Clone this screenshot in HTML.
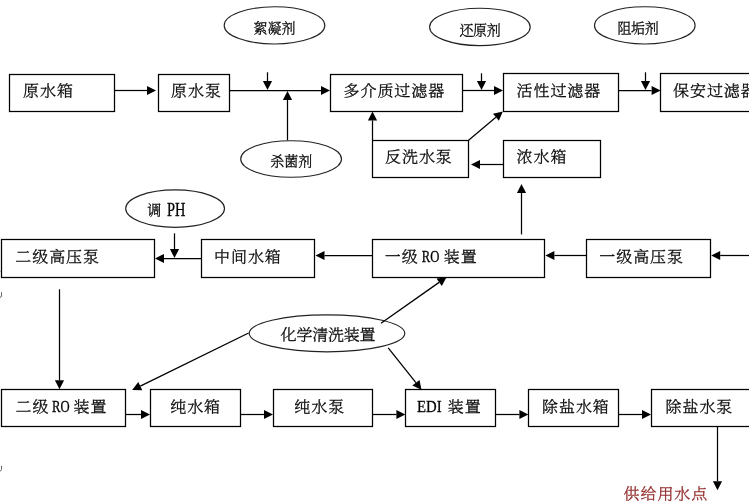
<!DOCTYPE html>
<html lang="zh-CN">
<head>
<meta charset="utf-8">
<title>水处理工艺流程图</title>
<style>
html,body{margin:0;padding:0;background:#fff;}
body{width:749px;height:502px;overflow:hidden;}
svg{display:block;}
text{font-family:"Liberation Serif", "Noto Serif CJK SC", serif;font-weight:300;stroke-width:0.32;stroke-linejoin:round;}
.b{fill:#fff;stroke:#000;stroke-width:1.25;}
.e{fill:#fff;stroke:#222;stroke-width:1.15;}
.l{stroke:#000;stroke-width:1.25;fill:none;}
.d{stroke:#000;stroke-width:1.3;fill:none;}
.h{fill:#000;stroke:none;}
</style>
</head>
<body>
<svg width="749" height="502" viewBox="0 0 749 502">
<rect x="0" y="0" width="749" height="502" fill="#fff"/>
<rect class="b" x="9.5" y="74.5" width="105" height="37"/>
<rect class="b" x="158.5" y="74.5" width="71" height="37"/>
<rect class="b" x="330.5" y="74.5" width="132" height="37"/>
<rect class="b" x="503.5" y="73.5" width="115" height="38"/>
<rect class="b" x="660.5" y="73.5" width="99.5" height="38"/>
<rect class="b" x="372.5" y="140.5" width="96" height="37"/>
<rect class="b" x="503.5" y="140.5" width="97" height="37"/>
<rect class="b" x="1.5" y="239.5" width="153" height="38"/>
<rect class="b" x="201.5" y="239.5" width="113" height="38"/>
<rect class="b" x="372.5" y="239.5" width="172" height="38"/>
<rect class="b" x="586.5" y="239.5" width="124" height="38"/>
<rect class="b" x="1.5" y="389.5" width="124" height="37"/>
<rect class="b" x="150.5" y="389.5" width="90" height="37"/>
<rect class="b" x="273.5" y="389.5" width="99" height="37"/>
<rect class="b" x="405.5" y="389.5" width="90" height="37"/>
<rect class="b" x="528.5" y="389.5" width="90" height="37"/>
<rect class="b" x="651.5" y="389.5" width="108.5" height="37"/>
<ellipse class="e" cx="274.5" cy="25.4" rx="50.3" ry="18.6"/>
<ellipse class="e" cx="479.9" cy="26.9" rx="50.3" ry="18.7"/>
<ellipse class="e" cx="644.8" cy="25.4" rx="50.3" ry="18.6"/>
<ellipse class="e" cx="291.1" cy="159" rx="50.4" ry="18.3"/>
<ellipse class="e" cx="175.1" cy="208.6" rx="49.4" ry="18.7"/>
<ellipse class="e" cx="327" cy="333.3" rx="77.8" ry="18.5"/>
<line class="l" x1="115" y1="90.5" x2="147.0" y2="90.5"/><polygon class="h" points="156.0,90.5 147.0,95.1 147.0,85.9"/>
<line class="l" x1="230" y1="90.5" x2="321.0" y2="90.5"/><polygon class="h" points="330.0,90.5 321.0,95.1 321.0,85.9"/>
<line class="l" x1="267.5" y1="72.3" x2="267.5" y2="81.0"/><polygon class="h" points="267.5,90.0 262.9,81.0 272.1,81.0"/>
<line class="l" x1="287.5" y1="140.3" x2="287.5" y2="100.0"/><polygon class="h" points="287.5,91.0 292.1,100.0 282.9,100.0"/>
<line class="l" x1="463" y1="90.5" x2="494.0" y2="90.5"/><polygon class="h" points="503.0,90.5 494.0,95.1 494.0,85.9"/>
<line class="l" x1="481.5" y1="73.3" x2="481.5" y2="81.0"/><polygon class="h" points="481.5,90.0 476.9,81.0 486.1,81.0"/>
<line class="l" x1="619" y1="90.5" x2="651.6" y2="90.5"/><polygon class="h" points="660.6,90.5 651.6,95.1 651.6,85.9"/>
<line class="l" x1="645.5" y1="72.3" x2="645.5" y2="81.0"/><polygon class="h" points="645.5,90.0 640.9,81.0 650.1,81.0"/>
<line class="l" x1="372.5" y1="140" x2="372.5" y2="120.5"/><polygon class="h" points="372.5,111.5 377.1,120.5 367.9,120.5"/>
<line class="d" x1="468.6" y1="140.3" x2="495.9" y2="117.3"/><polygon class="h" points="502.8,111.5 498.9,120.8 493.0,113.8"/>
<line class="l" x1="503" y1="164.5" x2="480.0" y2="164.5"/><polygon class="h" points="471.0,164.5 480.0,159.9 480.0,169.1"/>
<line class="l" x1="521.5" y1="234.4" x2="521.5" y2="193.0"/><polygon class="h" points="521.5,184.0 526.1,193.0 516.9,193.0"/>
<line class="l" x1="201" y1="258.5" x2="164.0" y2="258.5"/><polygon class="h" points="155.0,258.5 164.0,253.9 164.0,263.1"/>
<line class="l" x1="174.5" y1="233.4" x2="174.5" y2="249.0"/><polygon class="h" points="174.5,258.0 169.9,249.0 179.1,249.0"/>
<line class="l" x1="372" y1="255.5" x2="324.5" y2="255.5"/><polygon class="h" points="315.5,255.5 324.5,250.9 324.5,260.1"/>
<line class="l" x1="586" y1="255.5" x2="554.4" y2="255.5"/><polygon class="h" points="545.4,255.5 554.4,250.9 554.4,260.1"/>
<line class="l" x1="752" y1="255.5" x2="720.2" y2="255.5"/><polygon class="h" points="711.2,255.5 720.2,250.9 720.2,260.1"/>
<line class="l" x1="59.5" y1="289.3" x2="59.5" y2="380.3"/><polygon class="h" points="59.5,389.3 54.9,380.3 64.1,380.3"/>
<line class="d" x1="248.6" y1="333" x2="140.3" y2="386.1"/><polygon class="h" points="132.2,390.1 138.3,382.0 142.3,390.3"/>
<line class="d" x1="381" y1="323.2" x2="439.1" y2="282.4"/><polygon class="h" points="446.5,277.2 441.8,286.1 436.5,278.6"/>
<line class="d" x1="388.2" y1="347.8" x2="415.9" y2="382.7"/><polygon class="h" points="421.5,389.8 412.3,385.6 419.5,379.9"/>
<line class="l" x1="126" y1="414.5" x2="141.0" y2="414.5"/><polygon class="h" points="150.0,414.5 141.0,419.1 141.0,409.9"/>
<line class="l" x1="241" y1="414.5" x2="264.0" y2="414.5"/><polygon class="h" points="273.0,414.5 264.0,419.1 264.0,409.9"/>
<line class="l" x1="372.5" y1="414.5" x2="396.4" y2="414.5"/><polygon class="h" points="405.4,414.5 396.4,419.1 396.4,409.9"/>
<line class="l" x1="496" y1="414.5" x2="519.4" y2="414.5"/><polygon class="h" points="528.4,414.5 519.4,419.1 519.4,409.9"/>
<line class="l" x1="619" y1="414.5" x2="642.0" y2="414.5"/><polygon class="h" points="651.0,414.5 642.0,419.1 642.0,409.9"/>
<line class="l" x1="717.5" y1="426" x2="717.5" y2="481.2"/><polygon class="h" points="717.5,490.2 712.9,481.2 722.1,481.2"/>
<path d="M1.5 292.2V296Q1.5 297.2 0 297.4" stroke="#666" stroke-width="1" fill="none"/>
<path d="M1.5 465.8V469.6Q1.5 470.8 0 471" stroke="#666" stroke-width="1" fill="none"/>
<path d="M0 271.3H0.8" stroke="#888" stroke-width="1" fill="none"/>
<g opacity="0.99">
<text transform="translate(23 95.85) scale(1 0.95)" font-size="16" fill="#000" stroke="#000" letter-spacing="0.95">原水箱</text>
<text transform="translate(171 95.85) scale(1 0.95)" font-size="16" fill="#000" stroke="#000" letter-spacing="0.95">原水泵</text>
<text transform="translate(343.5 95.85) scale(1 0.95)" font-size="16" fill="#000" stroke="#000" letter-spacing="0.95">多介质过滤器</text>
<text transform="translate(516.5 95.85) scale(1 0.95)" font-size="16" fill="#000" stroke="#000" letter-spacing="0.95">活性过滤器</text>
<text transform="translate(673 95.85) scale(1 0.95)" font-size="16" fill="#000" stroke="#000" letter-spacing="0.95">保安过滤器</text>
<text transform="translate(385 161.85) scale(1 0.95)" font-size="16" fill="#000" stroke="#000" letter-spacing="0.95">反洗水泵</text>
<text transform="translate(516.5 161.85) scale(1 0.95)" font-size="16" fill="#000" stroke="#000" letter-spacing="0.95">浓水箱</text>
<text transform="translate(15.3 261.85) scale(1 0.95)" font-size="16" fill="#000" stroke="#000" letter-spacing="0.95">二级高压泵</text>
<text transform="translate(214 261.85) scale(1 0.95)" font-size="16" fill="#000" stroke="#000" letter-spacing="0.95">中间水箱</text>
<text transform="translate(599.3 261.85) scale(1 0.95)" font-size="16" fill="#000" stroke="#000" letter-spacing="0.95">一级高压泵</text>
<text transform="translate(170.2 411.85) scale(1 0.95)" font-size="16" fill="#000" stroke="#000" letter-spacing="0.95">纯水箱</text>
<text transform="translate(294.3 411.85) scale(1 0.95)" font-size="16" fill="#000" stroke="#000" letter-spacing="0.95">纯水泵</text>
<text transform="translate(542 411.85) scale(1 0.95)" font-size="16" fill="#000" stroke="#000" letter-spacing="0.95">除盐水箱</text>
<text transform="translate(665.5 411.85) scale(1 0.95)" font-size="16" fill="#000" stroke="#000" letter-spacing="0.95">除盐水泵</text>
<text transform="translate(280.6 339.85) scale(1 0.95)" font-size="16" fill="#000" stroke="#000" letter-spacing="-0.2">化学清洗装置</text>
<text transform="translate(253.5 32.85) scale(1 0.95)" font-size="14" fill="#000" stroke="#000" letter-spacing="0">絮凝剂</text>
<text transform="translate(459.5 34.85) scale(1 0.95)" font-size="14" fill="#000" stroke="#000" letter-spacing="-0.4">还原剂</text>
<text transform="translate(617.5 32.85) scale(1 0.95)" font-size="14" fill="#000" stroke="#000" letter-spacing="-0.4">阻垢剂</text>
<text transform="translate(270.2 165.85) scale(1 0.95)" font-size="14" fill="#000" stroke="#000" letter-spacing="0">杀菌剂</text>
<text transform="translate(623.5 498.85) scale(1 0.95)" font-size="16" fill="#902828" stroke="#902828" letter-spacing="0.95">供给用水点</text>
<text transform="translate(384.7 261.85) scale(1 0.95)" font-size="16" fill="#000" stroke="#000" letter-spacing="0.95">一级</text>
<text x="421.7" y="261.7" font-size="16.5" fill="#000" stroke="#000" textLength="17.6" lengthAdjust="spacingAndGlyphs">RO</text>
<text transform="translate(443.7 261.85) scale(1 0.95)" font-size="16" fill="#000" stroke="#000" letter-spacing="0.95">装置</text>
<text transform="translate(15.5 411.85) scale(1 0.95)" font-size="16" fill="#000" stroke="#000" letter-spacing="0.95">二级</text>
<text x="52" y="411.7" font-size="16.5" fill="#000" stroke="#000" textLength="17.6" lengthAdjust="spacingAndGlyphs">RO</text>
<text transform="translate(73.6 411.85) scale(1 0.95)" font-size="16" fill="#000" stroke="#000" letter-spacing="0.95">装置</text>
<text x="417" y="412" font-size="17" fill="#000" stroke="#000" textLength="24.6" lengthAdjust="spacingAndGlyphs">EDI</text>
<text transform="translate(447.7 411.85) scale(1 0.95)" font-size="16" fill="#000" stroke="#000" letter-spacing="0.95">装置</text>
<text transform="translate(147.3 214.85) scale(1 0.95)" font-size="14" fill="#000" stroke="#000" letter-spacing="0">调</text>
<text x="166.9" y="216" font-size="19" fill="#000" stroke="#000" textLength="18.4" lengthAdjust="spacingAndGlyphs">PH</text>
</g>
</svg>
</body>
</html>
